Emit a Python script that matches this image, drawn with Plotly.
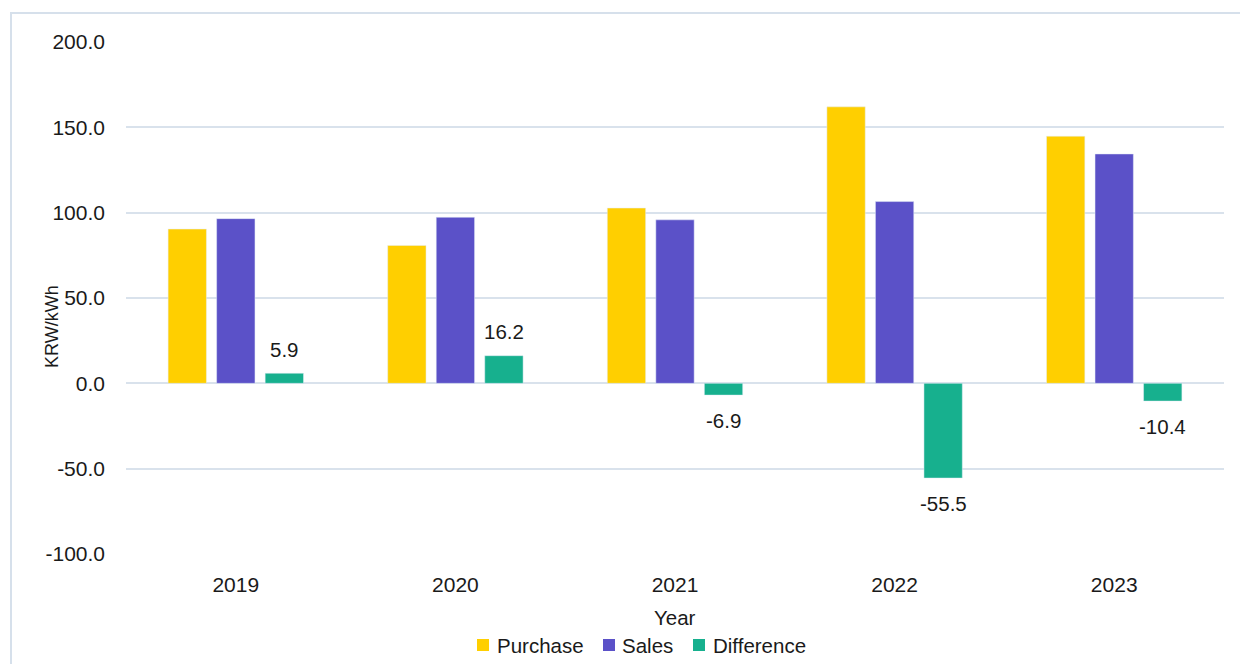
import plotly.graph_objects as go

years = ["2019", "2020", "2021", "2022", "2023"]
purchase = [90.4, 80.8, 102.7, 162.0, 144.8]
sales = [96.5, 97.3, 95.8, 106.5, 134.4]
difference = [5.9, 16.2, -6.9, -55.5, -10.4]
series_names = ["Purchase", "Sales", "Difference"]
series_colors = ["#FFCF00", "#5B51C8", "#17B08E"]
y_ticks = [-100, -50, 0, 50, 100, 150, 200]
y_tick_labels = ["-100.0", "-50.0", "0.0", "50.0", "100.0", "150.0", "200.0"]

FONT = "Liberation Sans, Arial, sans-serif"
TXT = "#1a1a1a"
GRID = "#D9E2EC"

# page has an 8px body margin; figure sized so it fills the 1248x664 window exactly
OFF = 8
W, H = 1248 - OFF, 664 - OFF
PLOT_L, PLOT_R, PLOT_T, PLOT_B = 126, 1224, 42, 554  # page pixels
L, R, T, B = PLOT_L - OFF, 1248 - PLOT_R, PLOT_T - OFF, 664 - PLOT_B
PW, PH = PLOT_R - PLOT_L, PLOT_B - PLOT_T

def px_x(p):
    return (p - PLOT_L) / PW

def px_y(p):
    return (PLOT_B - p) / PH

fig = go.Figure()
for name, vals, col in zip(series_names, [purchase, sales, difference], series_colors):
    fig.add_trace(go.Bar(name=name, x=years, y=vals, marker_color=col, showlegend=False))

bargap = 0.337
groupw = 1 - bargap
diff_offset = groupw / 3

annotations = []
for i, v in enumerate(difference):
    annotations.append(dict(
        x=i + diff_offset, y=v, xref="x", yref="y",
        text=f"{v:.1f}", showarrow=False,
        yanchor="middle", xanchor="center",
        yshift=24 if v >= 0 else -25,
        font=dict(family=FONT, size=20.5, color=TXT),
    ))

annotations.append(dict(
    x=px_x(675), y=px_y(617), xref="paper", yref="paper", text="Year",
    showarrow=False, xanchor="center", yanchor="middle",
    font=dict(family=FONT, size=20.5, color=TXT),
))
annotations.append(dict(
    x=px_x(52), y=px_y(327), xref="paper", yref="paper", text="KRW/kWh",
    showarrow=False, xanchor="center", yanchor="middle", textangle=-90,
    font=dict(family=FONT, size=18, color=TXT),
))

shapes = [dict(type="rect", xref="paper", yref="paper",
               x0=px_x(11), x1=px_x(1262), y0=px_y(13), y1=px_y(690),
               line=dict(color="#D6E0EB", width=2), fillcolor="rgba(0,0,0,0)", layer="below")]

# manual legend (small squares close to the labels)
legend_sq_left = [477, 603, 693]
legend_txt_left = [495, 620, 711]
for name, col, sx, tx in zip(series_names, series_colors, legend_sq_left, legend_txt_left):
    shapes.append(dict(type="rect", xref="paper", yref="paper",
                       x0=px_x(sx), x1=px_x(sx + 12), y0=px_y(651), y1=px_y(639),
                       line=dict(width=0), fillcolor=col))
    annotations.append(dict(x=px_x(tx), y=px_y(645), xref="paper", yref="paper",
                            text=name, showarrow=False, xanchor="left", yanchor="middle",
                            font=dict(family=FONT, size=20.5, color=TXT)))

fig.update_layout(
    width=W, height=H,
    margin=dict(l=L, r=R, t=T, b=B),
    paper_bgcolor="white", plot_bgcolor="white",
    barmode="group", bargap=bargap, bargroupgap=0.21,
    font=dict(family=FONT, size=21, color=TXT),
    showlegend=False,
    annotations=annotations,
    shapes=shapes,
)
fig.update_xaxes(showgrid=False, zeroline=False, showline=False, ticks="",
                 tickfont=dict(family=FONT, size=21, color=TXT), ticklabelstandoff=16)
fig.update_yaxes(range=[-100, 200], tickvals=y_ticks, ticktext=y_tick_labels,
                 showgrid=True, gridcolor=GRID, gridwidth=2, zeroline=True,
                 zerolinecolor=GRID, zerolinewidth=2, showline=False, ticks="",
                 tickfont=dict(family=FONT, size=21, color=TXT), ticklabelstandoff=20)

fig.write_html("out.html")
